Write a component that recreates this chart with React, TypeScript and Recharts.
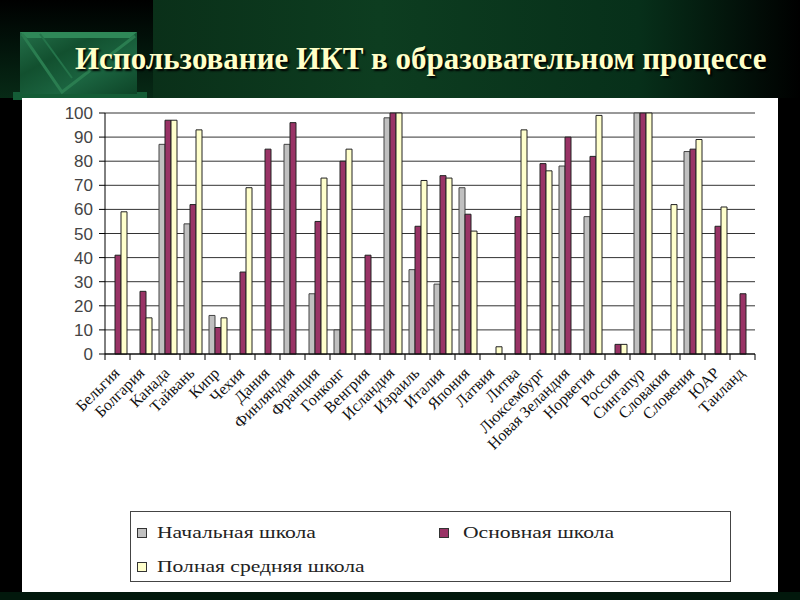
import React from "react";
import {
  BarChart,
  Bar,
  XAxis,
  YAxis,
  CartesianGrid,
  Legend,
} from "recharts";

// ── Data ─────────────────────────────────────────────────────────────────────

const countries = [
  "Бельгия", "Болгария", "Канада", "Тайвань", "Кипр", "Чехия", "Дания",
  "Финляндия", "Франция", "Гонконг", "Венгрия", "Исландия", "Израиль",
  "Италия", "Япония", "Латвия", "Литва", "Люксембург", "Новая Зеландия",
  "Норвегия", "Россия", "Сингапур", "Словакия", "Словения", "ЮАР", "Таиланд",
];

const primarySchool = [
  null, null, 87, 54, 16, null, null, 87, 25, 10, null, 98, 35,
  29, 69, null, null, null, 78, 57, null, 100, null, 84, null, null,
];

const basicSchool = [
  41, 26, 97, 62, 11, 34, 85, 96, 55, 80, 41, 100, 53,
  74, 58, null, 57, 79, 90, 82, 4, 100, null, 85, 53, 25,
];

const fullSecondary = [
  59, 15, 97, 93, 15, 69, null, null, 73, 85, null, 100, 72,
  73, 51, 3, 93, 76, null, 99, 4, 100, 62, 89, 61, null,
];

const yTicks = [0, 10, 20, 30, 40, 50, 60, 70, 80, 90, 100];

const seriesNames = {
  primary: "Начальная школа",
  basic: "Основная школа",
  full: "Полная средняя школа",
};

const chartData = countries.map((name, i) => ({
  name,
  primary: primarySchool[i],
  basic: basicSchool[i],
  full: fullSecondary[i],
}));

// ── Axis tick: label rotated, tick marks between categories ──────────────────

function CountryTick(props: any) {
  const { x, y, payload, index } = props;
  const half = payload?.offset ?? 0;
  const last = index === countries.length - 1;
  const tx = x + 3;
  const ty = y + 20;
  return (
    <g>
      <line x1={x - half} y1={y} x2={x - half} y2={y + 6} stroke="#000" />
      {last && (
        <line x1={x + half} y1={y} x2={x + half} y2={y + 6} stroke="#000" />
      )}
      <text
        x={tx}
        y={ty}
        transform={`rotate(-45, ${tx}, ${ty})`}
        textAnchor="end"
        fontFamily="'Liberation Serif', 'Times New Roman', serif"
        fontSize={16}
        fill="#111"
      >
        {payload.value}
      </text>
    </g>
  );
}

// ── Legend box ───────────────────────────────────────────────────────────────

function Swatch({ color }: { color: string }) {
  return (
    <span
      style={{
        display: "inline-block",
        width: 8,
        height: 8,
        background: color,
        border: "1px solid #333",
        marginRight: 10,
        verticalAlign: "middle",
      }}
    />
  );
}

function LegendBox() {
  const text: React.CSSProperties = {
    display: "inline-block",
    transform: "scaleX(1.27)",
    transformOrigin: "left center",
    verticalAlign: "middle",
  };
  return (
    <div
      style={{
        boxSizing: "border-box",
        width: 601,
        height: 71,
        border: "1.5px solid #444",
        background: "#fff",
        fontFamily: "'Liberation Serif', 'Times New Roman', serif",
        fontSize: 17,
        color: "#222",
        position: "relative",
      }}
    >
      <div style={{ position: "absolute", left: 6, top: 10 }}>
        <Swatch color="#c0c0c0" />
        <span style={text}>{seriesNames.primary}</span>
      </div>
      <div style={{ position: "absolute", left: 308, top: 10 }}>
        <Swatch color="#993366" />
        <span style={{ ...text, marginLeft: 4 }}>{seriesNames.basic}</span>
      </div>
      <div style={{ position: "absolute", left: 6, top: 44 }}>
        <Swatch color="#ffffcc" />
        <span style={text}>{seriesNames.full}</span>
      </div>
    </div>
  );
}

// ── Slide decoration ─────────────────────────────────────────────────────────

function MarbleBlock() {
  return (
    <svg
      width={140}
      height={75}
      style={{ position: "absolute", left: 10, top: 28 }}
    >
      <defs>
        <linearGradient id="marble" x1="0" y1="0" x2="1" y2="1">
          <stop offset="0%" stopColor="#24704a" />
          <stop offset="35%" stopColor="#12502f" />
          <stop offset="65%" stopColor="#1b6440" />
          <stop offset="100%" stopColor="#0d4427" />
        </linearGradient>
      </defs>
      <rect x={3} y={64} width={134} height={8} fill="#145c36" />
      <rect x={10} y={4} width={117} height={62} fill="url(#marble)" />
      <polygon points="10,4 127,4 120,10 17,10" fill="#2f8858" />
      <polyline
        points="12,6 52,64 125,8"
        fill="none"
        stroke="#2a7d50"
        strokeWidth={3}
      />
      <polyline
        points="30,6 62,50"
        fill="none"
        stroke="#24744a"
        strokeWidth={2}
      />
    </svg>
  );
}

// ── Main ─────────────────────────────────────────────────────────────────────

export default function App() {
  return (
    <div
      style={{
        position: "absolute",
        left: 0,
        top: 0,
        width: 800,
        height: 600,
        overflow: "hidden",
        background: "#000",
      }}
    >
      {/* header background */}
      <div
        style={{
          position: "absolute",
          left: 0,
          top: 0,
          width: 153,
          height: 98,
          background: "linear-gradient(180deg, #000 0%, #02130a 45%, #072a16 100%)",
        }}
      />
      <div
        style={{
          position: "absolute",
          left: 153,
          top: 0,
          width: 647,
          height: 98,
          background:
            "linear-gradient(90deg, #0a3019 0%, #0d3d20 35%, #07301a 75%, #000 100%)",
        }}
      />
      <div
        style={{
          position: "absolute",
          left: 0,
          top: 592,
          width: 800,
          height: 8,
          background: "#02180c",
        }}
      />
      <MarbleBlock />
      <div
        style={{
          position: "absolute",
          left: 75,
          top: 41,
          fontFamily: "'Liberation Serif', 'Times New Roman', serif",
          fontWeight: "bold",
          fontSize: 31,
          color: "#ffffc8",
          textShadow: "2px 2px 2px #000",
          whiteSpace: "nowrap",
        }}
      >
        Использование ИКТ в образовательном процессе
      </div>

      {/* white chart panel */}
      <div
        style={{
          position: "absolute",
          left: 22,
          top: 98,
          width: 756,
          height: 494,
          background: "#fff",
        }}
      />

      <div style={{ position: "absolute", left: 0, top: 0 }}>
        <BarChart
          width={800}
          height={600}
          data={chartData}
          margin={{ top: 113, right: 45, left: 55, bottom: 96 }}
          barCategoryGap="16%"
          barGap={0}
        >
          <CartesianGrid vertical={false} stroke="#333" />
          <XAxis
            dataKey="name"
            interval={0}
            height={150}
            tickLine={false}
            tickSize={0}
            tickMargin={0}
            axisLine={{ stroke: "#000" }}
            tick={<CountryTick />}
          />
          <YAxis
            width={50}
            domain={[0, 100]}
            ticks={yTicks}
            interval={0}
            tickSize={6}
            tickMargin={6}
            axisLine={{ stroke: "#000" }}
            tickLine={{ stroke: "#000" }}
            tick={{
              fontSize: 17,
              fill: "#444",
              fontFamily: "'Liberation Sans', Arial, sans-serif",
            }}
          />
          <Legend
            layout="horizontal"
            verticalAlign="middle"
            align="center"
            wrapperStyle={{ left: 130, top: 511, width: 601 }}
            content={() => <LegendBox />}
          />
          <Bar
            dataKey="primary"
            name={seriesNames.primary}
            fill="#c0c0c0"
            stroke="#444"
            strokeWidth={1}
            isAnimationActive={false}
          />
          <Bar
            dataKey="basic"
            name={seriesNames.basic}
            fill="#993366"
            stroke="#222"
            strokeWidth={1}
            isAnimationActive={false}
          />
          <Bar
            dataKey="full"
            name={seriesNames.full}
            fill="#ffffcc"
            stroke="#222"
            strokeWidth={1}
            isAnimationActive={false}
          />
        </BarChart>
      </div>
    </div>
  );
}
